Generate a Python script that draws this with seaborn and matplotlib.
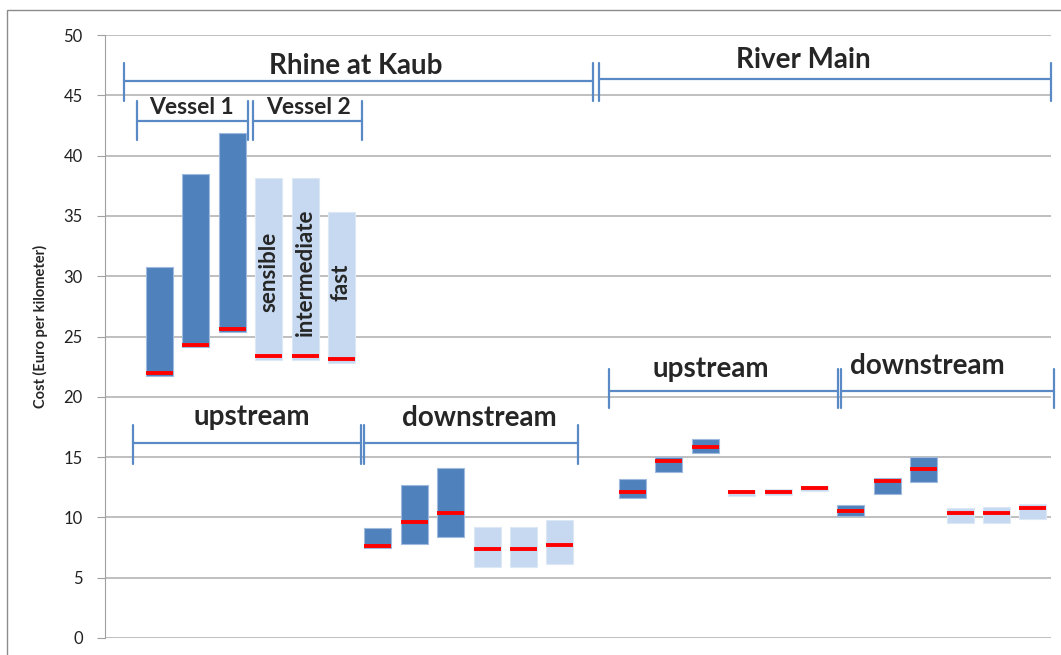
import numpy as np
import pandas as pd
import matplotlib
matplotlib.use('Agg')
from matplotlib import pyplot as plt
from matplotlib.patches import Rectangle
import seaborn as sns

sns.set_style('white')
plt.rcParams['font.family'] = ['Lato', 'DejaVu Sans']

# cost per km, order inside each group: vessel 1 (sensible, intermediate, fast), vessel 2 (same)
rhine_up_lo = [21.7, 24.1, 25.35, 23.05, 23.05, 22.8]
rhine_up_hi = [30.8, 38.45, 41.9, 38.15, 38.15, 35.3]
rhine_up_med = [22.0, 24.3, 25.65, 23.4, 23.4, 23.15]

rhine_down_lo = [7.45, 7.8, 8.35, 5.85, 5.85, 6.15]
rhine_down_hi = [9.1, 12.7, 14.1, 9.2, 9.2, 9.8]
rhine_down_med = [7.65, 9.6, 10.4, 7.35, 7.35, 7.7]

main_up_lo = [11.6, 13.8, 15.3, 11.8, 11.85, 12.15]
main_up_hi = [13.2, 15.0, 16.5, 12.3, 12.35, 12.6]
main_up_med = [12.1, 14.7, 15.85, 12.1, 12.1, 12.45]

main_down_lo = [10.15, 11.9, 12.9, 9.5, 9.5, 9.85]
main_down_hi = [11.0, 13.3, 15.0, 10.75, 10.85, 11.1]
main_down_med = [10.55, 13.0, 14.0, 10.4, 10.4, 10.8]

vessels = ['Vessel 1', 'Vessel 2']
speeds = ['sensible', 'intermediate', 'fast']
directions = ['upstream', 'downstream']
rivers = ['Rhine at Kaub', 'River Main']

DARK = '#4F81BD'
LIGHT = '#C6D9F1'
LINE = '#5A8AC6'

lo = rhine_up_lo + rhine_down_lo + main_up_lo + main_down_lo
hi = rhine_up_hi + rhine_down_hi + main_up_hi + main_down_hi
med = rhine_up_med + rhine_down_med + main_up_med + main_down_med
n = len(lo)
# one empty slot between the two rivers
pos = np.arange(n) + (np.arange(n) >= 12)
df = pd.DataFrame({'pos': pos, 'lo': lo, 'hi': hi, 'med': med})
df['span'] = df['hi'] - df['lo']
df['vessel'] = [vessels[(i % 6) // 3] for i in range(n)]

fig = plt.figure(figsize=(10.61, 6.55), dpi=100)
ax = fig.add_axes([105 / 1061, 17 / 655, 946 / 1061, 603 / 655])

for v, col, ec in [(vessels[0], DARK, '#9FBADD'), (vessels[1], LIGHT, '#DDE8F5')]:
    sub = df[df['vessel'] == v]
    sns.barplot(data=sub, x='pos', y='span', native_scale=True, errorbar=None,
                color=col, saturation=1, width=0.74, bottom=sub['lo'].values,
                edgecolor=ec, linewidth=0.8, ax=ax, zorder=2)

ax.hlines(df['med'], df['pos'] - 0.37, df['pos'] + 0.37, color='#FF0000', lw=2.8, zorder=3)

ax.set_xlim(-1.5, 24.5)
ax.set_ylim(0, 50)
ax.set_yticks(range(0, 51, 5))
ax.set_xticks([])
ax.set_xlabel('')
ax.set_ylabel('Cost (Euro per kilometer)', fontsize=10.5, fontweight='bold')
ax.yaxis.set_label_coords(-0.060, 0.516)
ax.yaxis.grid(True, color='#B4B4B4', lw=1.2, zorder=0)
ax.set_axisbelow(True)
ax.tick_params(axis='y', length=6, color='#A0A0A0', labelsize=12, labelcolor='#222222', pad=10, left=True)
for s in ['top', 'right', 'bottom']:
    ax.spines[s].set_visible(False)
ax.spines['left'].set_color('#A0A0A0')


def bracket(x0, x1, y, y0, y1):
    ax.plot([x0, x1], [y, y], color=LINE, lw=1.6, clip_on=False, zorder=4)
    for x in (x0, x1):
        ax.plot([x, x], [y0, y1], color=LINE, lw=1.6, clip_on=False, zorder=4)


# rivers
bracket(-0.97, 11.92, 46.2, 44.5, 47.7)
bracket(12.08, 24.5, 46.35, 44.5, 47.7)
ax.text(5.4, 47.45, rivers[0], ha='center', va='center', fontsize=20, fontweight='bold')
ax.text(17.7, 47.9, rivers[1], ha='center', va='center', fontsize=20, fontweight='bold')

# vessels
bracket(-0.61, 2.43, 42.87, 41.3, 44.5)
bracket(2.56, 5.56, 42.87, 41.3, 44.5)
ax.text(0.88, 43.95, vessels[0], ha='center', va='center', fontsize=16.5, fontweight='bold')
ax.text(4.08, 43.95, vessels[1], ha='center', va='center', fontsize=16.5, fontweight='bold')

# speed labels inside vessel 2 bars
for x, s, yc in zip([3, 4, 5], speeds, [30.4, 30.35, 29.5]):
    ax.text(x, yc, s, rotation=90, ha='center', va='center', fontsize=16, fontweight='bold')

# directions, Rhine
bracket(-0.74, 5.54, 16.2, 14.4, 17.65)
bracket(5.63, 11.5, 16.2, 14.4, 17.65)
ax.text(2.52, 18.3, directions[0], ha='center', va='center', fontsize=20, fontweight='bold')
ax.text(8.78, 18.25, directions[1], ha='center', va='center', fontsize=20, fontweight='bold')

# directions, Main
bracket(12.35, 18.64, 20.5, 19.1, 22.3)
bracket(18.73, 24.58, 20.5, 19.1, 22.3)
ax.text(15.14, 22.3, directions[0], ha='center', va='center', fontsize=20, fontweight='bold')
ax.text(21.09, 22.55, directions[1], ha='center', va='center', fontsize=20, fontweight='bold')

# chart frame
fig.patches.append(Rectangle((7 / 1061, -0.05), 1.1, 1 - 10 / 655 + 0.05,
                             transform=fig.transFigure, fill=False, edgecolor='#8C8C8C', lw=1))

fig.savefig('out.png', dpi=100)
